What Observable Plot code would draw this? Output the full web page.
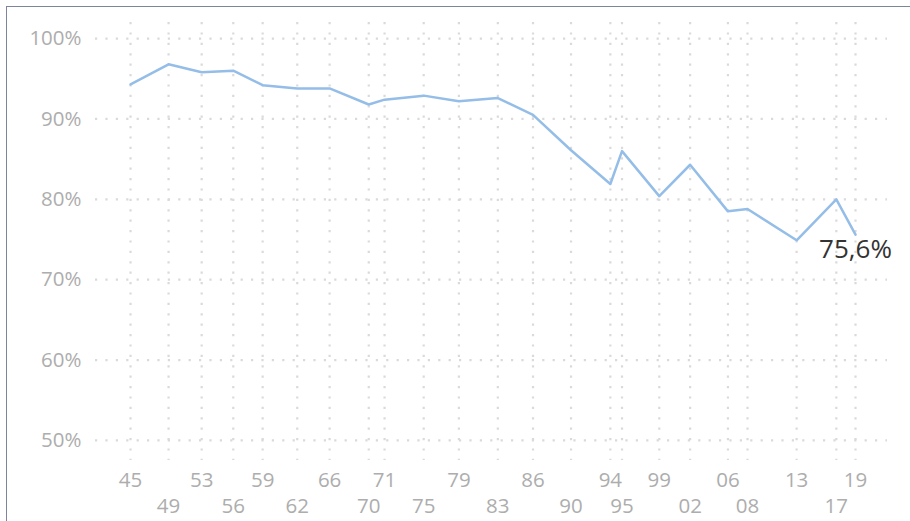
<!DOCTYPE html>
<html>
<head>
<meta charset="utf-8">
<script src="https://cdn.jsdelivr.net/npm/d3@7"></script>
<script src="https://cdn.jsdelivr.net/npm/@observablehq/plot@0.6"></script>
<style>
  html, body { margin: 0; padding: 0; background: #fff; }
  body { width: 910px; height: 521px; position: relative; overflow: hidden; font-family: "Open Sans", sans-serif; }
  #frame { position: absolute; left: 6px; top: 6px; width: 920px; height: 530px; border-left: 1.5px solid #7c8699; border-top: 1.5px solid #7c8699; }
  #chart { position: absolute; left: 0; top: 0; }
</style>
</head>
<body>
<div id="frame"></div>
<div id="chart"></div>
<script>
const electionDates = ["1945-11-25","1949-10-09","1953-02-22","1956-05-13","1959-05-10","1962-11-18","1966-03-06","1970-03-01","1971-10-10","1975-10-05","1979-05-06","1983-04-24","1986-11-23","1990-10-07","1994-10-09","1995-12-17","1999-10-03","2002-11-24","2006-10-01","2008-09-28","2013-09-29","2017-10-15","2019-09-29"];
const turnout = [94.3,96.8,95.8,96.0,94.2,93.8,93.8,91.8,92.4,92.9,92.2,92.6,90.5,86.1,81.9,86.0,80.4,84.3,78.5,78.8,74.9,80.0,75.6];
const yTicks = [50,60,70,80,90,100];
const lastLabel = "75,6%";

const data = electionDates.map((d, i) => ({date: new Date(d), value: turnout[i]}));
const dates = data.map(d => d.date);
const topRow = dates.filter((d, i) => i % 2 === 0);
const bottomRow = dates.filter((d, i) => i % 2 === 1);
const fmt = d3.utcFormat("%y");

const plot = Plot.plot({
  width: 910,
  height: 521,
  marginLeft: 95,
  marginRight: 23,
  marginTop: 22,
  marginBottom: 61,
  style: {fontFamily: "'Open Sans', sans-serif", fontSize: "20.5px", background: "transparent"},
  x: {type: "utc", domain: [new Date("1942-05-01"), new Date("2023-01-01")]},
  y: {domain: [47.5, 102]},
  marks: [
    Plot.ruleX(dates, {stroke: "#dadada", strokeWidth: 2.2, strokeDasharray: "2.2,8.2"}),
    Plot.ruleY(yTicks, {stroke: "#dadada", strokeWidth: 2.2, strokeDasharray: "2.2,8.2"}),
    Plot.axisY(yTicks, {tickSize: 0, tickPadding: 14, tickFormat: d => d + "%", label: null, color: "#adadad", fontSize: 20.5}),
    Plot.axisX(topRow, {tickSize: 0, tickPadding: 12, tickFormat: fmt, label: null, color: "#adadad", fontSize: 20.5}),
    Plot.axisX(bottomRow, {tickSize: 0, tickPadding: 38, tickFormat: fmt, label: null, color: "#adadad", fontSize: 20.5}),
    Plot.line(data, {x: "date", y: "value", stroke: "#94bde8", strokeWidth: 2.5}),
    Plot.text(data.slice(-1), {x: "date", y: "value", text: () => lastLabel, dy: 15, fill: "#333", fontSize: 26, textAnchor: "middle"})
  ]
});
document.getElementById("chart").appendChild(plot);
</script>
</body>
</html>
